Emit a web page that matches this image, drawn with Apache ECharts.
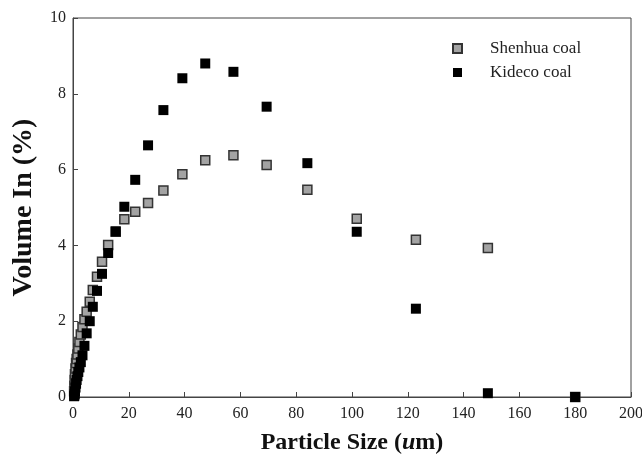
<html>
<head>
    <meta http-equiv="Content-Type" content="text/html; charset=utf-8"/>
    <title>Particle size</title>
    <style type="text/css">
        body, #chart {
            border: 0px;
            margin: 0px;
            padding: 0px;
            width: 642px;
            height: 460px;
            background: #fff;
        }
    </style>
    <script type="text/javascript" src="https://cdn.jsdelivr.net/npm/echarts@6/dist/echarts.min.js"></script>
    <script type="text/javascript">
        // size classes (um), shared by both coals
        var sizes = [0.4, 0.5, 0.6, 0.7, 0.9, 1.1, 1.3, 1.6, 1.9, 2.3, 2.8, 3.4, 4.1, 4.9, 6.0, 7.1, 8.6,
            10.4, 12.6, 15.3, 18.4, 22.3, 26.9, 32.4, 39.2, 47.4, 57.5, 69.4, 84.0, 101.7, 122.9, 148.7, 180];
        var shenhua = [0.15, 0.3, 0.45, 0.6, 0.75, 0.9, 1.0, 1.12, 1.28, 1.45, 1.65, 1.85, 2.05, 2.25, 2.51, 2.82, 3.17,
            3.57, 4.01, 4.36, 4.69, 4.89, 5.12, 5.45, 5.88, 6.25, 6.38, 6.12, 5.47, 4.70, 4.15, 3.93, 0];
        var kideco = [0.02, 0.04, 0.08, 0.15, 0.25, 0.35, 0.45, 0.55, 0.66, 0.78, 0.92, 1.1, 1.35, 1.68, 2.0, 2.38, 2.8,
            3.25, 3.8, 4.37, 5.02, 5.73, 6.64, 7.57, 8.41, 8.80, 8.58, 7.66, 6.17, 4.36, 2.33, 0.1, 0.0];
        var seriesNames = ['Shenhua coal', 'Kideco coal'];

        function pairs(vals) {
            var out = [];
            for (var i = 0; i < sizes.length; i++) {
                out.push([sizes[i], vals[i]]);
            }
            return out;
        }

        function init() {
            var font = '"Liberation Serif", "DejaVu Serif", serif';
            var myChart = echarts.init(document.getElementById('chart'));
            var option = {
                animation: false,
                textStyle: {fontFamily: font},
                grid: {
                    left: 73, right: 11, top: 18, bottom: 63,
                    outerBoundsMode: 'none',
                    show: true, borderColor: '#444', borderWidth: 1
                },
                legend: {
                    orient: 'vertical',
                    left: 447, top: 35,
                    itemWidth: 9, itemHeight: 9, itemGap: 7,
                    data: seriesNames,
                    textStyle: {fontFamily: font, fontSize: 17, color: '#222', padding: [0, 0, 0, 23]}
                },
                xAxis: {
                    type: 'value', min: 0, max: 200, interval: 20,
                    name: '{b|Particle Size (}{i|u}{b|m)}',
                    nameLocation: 'middle', nameGap: 34,
                    nameTextStyle: {
                        rich: {
                            b: {fontFamily: font, fontSize: 24, fontWeight: 'bold', color: '#111'},
                            i: {fontFamily: font, fontSize: 24, fontWeight: 'bold', fontStyle: 'italic', color: '#111'}
                        }
                    },
                    splitLine: {show: false},
                    axisLine: {lineStyle: {color: '#444'}},
                    axisTick: {inside: true, length: 5, lineStyle: {color: '#444'}},
                    axisLabel: {fontFamily: font, fontSize: 16, color: '#222', margin: 9}
                },
                yAxis: {
                    type: 'value', min: 0, max: 10, interval: 2,
                    name: 'Volume In (%)',
                    nameLocation: 'middle', nameGap: 35,
                    nameTextStyle: {fontFamily: font, fontSize: 28, fontWeight: 'bold', color: '#111'},
                    splitLine: {show: false},
                    axisLine: {lineStyle: {color: '#444'}},
                    axisTick: {inside: true, length: 5, lineStyle: {color: '#444'}},
                    axisLabel: {fontFamily: font, fontSize: 16, color: '#222', margin: 7}
                },
                series: [
                    {
                        name: seriesNames[0],
                        type: 'scatter',
                        symbol: 'rect',
                        symbolSize: 9,
                        itemStyle: {color: '#a3a3a3', borderColor: '#333', borderWidth: 1.5, opacity: 1},
                        data: pairs(shenhua)
                    },
                    {
                        name: seriesNames[1],
                        type: 'scatter',
                        symbol: 'rect',
                        symbolSize: 10,
                        itemStyle: {color: '#000', opacity: 1},
                        data: pairs(kideco)
                    }
                ]
            };
            myChart.setOption(option);
        }
    </script>
</head>
<body onLoad="init()">
<div id="chart"></div>
</body>
</html>
